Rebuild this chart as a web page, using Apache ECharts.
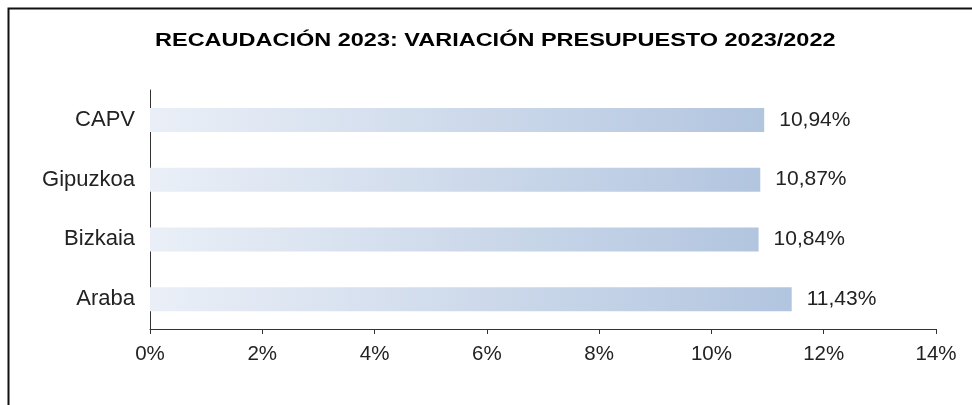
<!DOCTYPE html>
<html><head><meta charset="utf-8">
<script src="https://cdn.jsdelivr.net/npm/echarts@6/dist/echarts.min.js"></script>
<style>
html,body{margin:0;padding:0;background:#fff}
#c{width:972px;height:405px}
</style>
</head><body><div id="c"></div>
<script>
const categories = ['CAPV', 'Gipuzkoa', 'Bizkaia', 'Araba'];
const values = [10.94, 10.87, 10.84, 11.43];
const xTicks = [0, 2, 4, 6, 8, 10, 12, 14];
const titleText = 'RECAUDACIÓN 2023: VARIACIÓN PRESUPUESTO 2023/2022';

const chart = echarts.init(document.getElementById('c'), null, {renderer: 'canvas'});
const font = 'Liberation Sans, Arial, sans-serif';
chart.setOption({
  animation: false,
  backgroundColor: '#fff',
  graphic: [{
    type: 'rect', left: 6, top: 6,
    shape: {width: 1000, height: 500},
    style: {fill: 'none', stroke: '#111', lineWidth: 2}
  }, {
    type: 'text', left: 155, top: 32, scaleX: 1.305,
    style: {
      text: titleText, fill: '#000',
      font: 'bold 18px Liberation Sans, Arial, sans-serif'
    }
  }],
  grid: {left: 150, right: 36, top: 90, bottom: 76, containLabel: false},
  xAxis: {
    type: 'value', min: xTicks[0], max: xTicks[xTicks.length - 1], interval: 2,
    axisLine: {show: true, lineStyle: {color: '#333', width: 1}},
    axisTick: {show: true, length: 5, lineStyle: {color: '#333'}},
    splitLine: {show: false},
    axisLabel: {formatter: v => v + '%', fontFamily: font, fontSize: 20.5, color: '#222', margin: 15}
  },
  yAxis: {
    type: 'category', data: categories, inverse: true,
    axisLine: {show: true, lineStyle: {color: '#333', width: 1}},
    axisTick: {show: false},
    axisLabel: {fontFamily: font, fontSize: 22, color: '#222', margin: 15}
  },
  series: [{
    type: 'bar', data: values, barWidth: 24,
    itemStyle: {
      color: new echarts.graphic.LinearGradient(0, 0, 1, 0, [
        {offset: 0, color: '#eaeff7'},
        {offset: 1, color: '#b2c5df'}
      ])
    },
    label: {
      show: true, position: 'right', distance: 15,
      formatter: p => p.value.toFixed(2).replace('.', ',') + '%',
      fontFamily: font, fontSize: 21, color: '#222'
    }
  }]
});
</script></body></html>
